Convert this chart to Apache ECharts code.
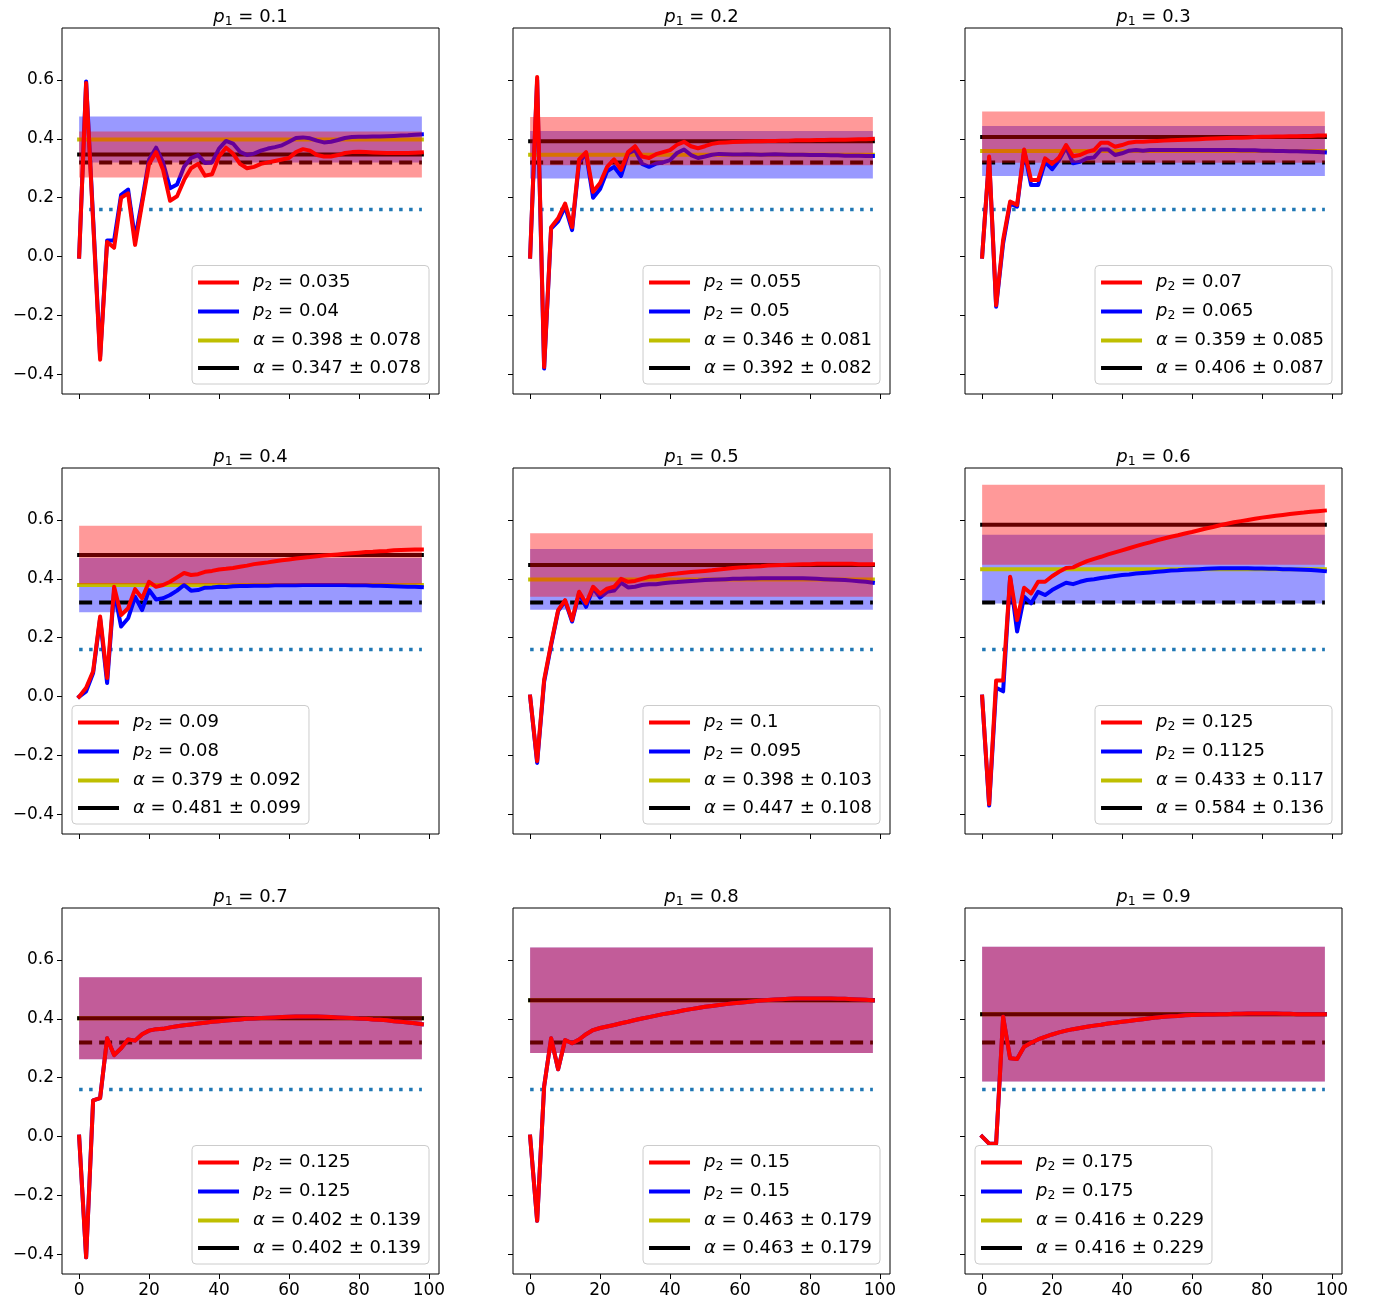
<!DOCTYPE html>
<html>
<head>
<meta charset="utf-8">
<script src="https://cdn.jsdelivr.net/npm/echarts@6/dist/echarts.min.js"></script>
<style>
  html, body { margin: 0; padding: 0; background: #fff; }
  #chart { width: 1374px; height: 1303px; }
</style>
</head>
<body>
<div id="chart"></div>
<script>
// x positions shared by every curve
const xs = [0, 2, 4, 6, 8, 10, 12, 14, 16, 18, 20, 22, 24, 26, 28, 30, 32, 34, 36, 38,
  40, 42, 44, 46, 48, 50, 52, 54, 56, 58, 60, 62, 64, 66, 68, 70, 72, 74, 76, 78,
  80, 82, 84, 86, 88, 90, 92, 94, 96, 98];

// p1 = 0.1
const red1 = [0.0, 0.59, 0.12, -0.35, 0.05, 0.03, 0.20, 0.215, 0.04, 0.18, 0.315, 0.355, 0.295, 0.19, 0.205, 0.26, 0.30, 0.315, 0.275, 0.28,
  0.34, 0.37, 0.35, 0.315, 0.30, 0.305, 0.315, 0.32, 0.325, 0.33, 0.335, 0.355, 0.365, 0.36, 0.345, 0.34, 0.34, 0.345, 0.352, 0.355,
  0.356, 0.355, 0.354, 0.353, 0.352, 0.352, 0.352, 0.352, 0.353, 0.354];
const blue1 = [0.0, 0.595, 0.13, -0.34, 0.055, 0.055, 0.21, 0.228, 0.06, 0.19, 0.33, 0.37, 0.32, 0.232, 0.245, 0.305, 0.335, 0.345, 0.318, 0.32,
  0.367, 0.393, 0.384, 0.356, 0.345, 0.35, 0.36, 0.367, 0.372, 0.378, 0.39, 0.403, 0.405, 0.402, 0.394, 0.388, 0.39, 0.396, 0.403, 0.406,
  0.407, 0.407, 0.408, 0.408, 0.409, 0.41, 0.411, 0.412, 0.414, 0.415];
// p1 = 0.2
const red2 = [0.0, 0.61, -0.375, 0.10, 0.13, 0.18, 0.10, 0.33, 0.355, 0.22, 0.25, 0.305, 0.33, 0.295, 0.355, 0.375, 0.34, 0.335, 0.348, 0.355,
  0.362, 0.38, 0.39, 0.375, 0.368, 0.375, 0.383, 0.387, 0.388, 0.389, 0.39, 0.391, 0.392, 0.392, 0.393, 0.393, 0.394, 0.394, 0.395, 0.395,
  0.395, 0.396, 0.396, 0.397, 0.397, 0.397, 0.398, 0.399, 0.399, 0.40];
const blue2 = [0.0, 0.60, -0.38, 0.095, 0.12, 0.17, 0.09, 0.32, 0.35, 0.20, 0.23, 0.29, 0.305, 0.274, 0.35, 0.362, 0.315, 0.305, 0.316, 0.32,
  0.328, 0.352, 0.364, 0.345, 0.335, 0.34, 0.346, 0.349, 0.348, 0.347, 0.347, 0.348, 0.347, 0.346, 0.347, 0.348, 0.347, 0.346, 0.346, 0.346,
  0.345, 0.345, 0.345, 0.344, 0.344, 0.343, 0.343, 0.343, 0.342, 0.342];
// p1 = 0.3
const red3 = [0.0, 0.34, -0.165, 0.057, 0.187, 0.176, 0.364, 0.26, 0.26, 0.334, 0.315, 0.337, 0.379, 0.341, 0.345, 0.356, 0.362, 0.387, 0.387, 0.373,
  0.379, 0.387, 0.39, 0.39, 0.392, 0.393, 0.394, 0.395, 0.396, 0.397, 0.398, 0.399, 0.40, 0.401, 0.402, 0.403, 0.404, 0.404, 0.405, 0.406,
  0.407, 0.407, 0.408, 0.408, 0.409, 0.409, 0.41, 0.41, 0.411, 0.411];
const blue3 = [0.0, 0.335, -0.17, 0.045, 0.18, 0.17, 0.36, 0.243, 0.243, 0.322, 0.297, 0.328, 0.371, 0.317, 0.322, 0.334, 0.337, 0.364, 0.364, 0.345,
  0.351, 0.36, 0.362, 0.36, 0.362, 0.362, 0.362, 0.362, 0.362, 0.362, 0.362, 0.362, 0.362, 0.362, 0.362, 0.362, 0.362, 0.361, 0.361, 0.361,
  0.36, 0.36, 0.359, 0.359, 0.358, 0.358, 0.357, 0.356, 0.355, 0.354];
// p1 = 0.4
const red4 = [0.0, 0.03, 0.086, 0.272, 0.063, 0.373, 0.277, 0.30, 0.365, 0.334, 0.39, 0.373, 0.379, 0.39, 0.405, 0.42, 0.413, 0.416, 0.424, 0.427,
  0.432, 0.434, 0.437, 0.441, 0.445, 0.45, 0.453, 0.456, 0.46, 0.463, 0.466, 0.469, 0.472, 0.474, 0.477, 0.479, 0.481, 0.483, 0.485, 0.487,
  0.489, 0.491, 0.492, 0.494, 0.495, 0.497, 0.498, 0.499, 0.50, 0.50];
const blue4 = [0.0, 0.018, 0.08, 0.265, 0.046, 0.36, 0.238, 0.266, 0.339, 0.294, 0.362, 0.33, 0.334, 0.345, 0.36, 0.379, 0.36, 0.362, 0.37, 0.371,
  0.373, 0.372, 0.375, 0.376, 0.376, 0.377, 0.377, 0.377, 0.378, 0.378, 0.378, 0.378, 0.379, 0.379, 0.379, 0.379, 0.379, 0.379, 0.379, 0.378,
  0.378, 0.378, 0.377, 0.377, 0.376, 0.375, 0.374, 0.373, 0.373, 0.372];
// p1 = 0.5
const red5 = [0.0, -0.219, 0.057, 0.18, 0.294, 0.328, 0.26, 0.356, 0.317, 0.373, 0.35, 0.367, 0.373, 0.40, 0.39, 0.393, 0.40, 0.407, 0.409, 0.412,
  0.416, 0.418, 0.421, 0.423, 0.425, 0.427, 0.429, 0.432, 0.434, 0.437, 0.439, 0.44, 0.442, 0.443, 0.445, 0.446, 0.447, 0.448, 0.449, 0.45,
  0.45, 0.451, 0.451, 0.451, 0.451, 0.451, 0.451, 0.45, 0.45, 0.45];
const blue5 = [0.0, -0.225, 0.05, 0.175, 0.29, 0.325, 0.255, 0.352, 0.305, 0.368, 0.337, 0.356, 0.36, 0.387, 0.371, 0.373, 0.379, 0.382, 0.382, 0.385,
  0.388, 0.389, 0.391, 0.393, 0.394, 0.396, 0.397, 0.398, 0.399, 0.40, 0.40, 0.401, 0.401, 0.402, 0.402, 0.402, 0.402, 0.402, 0.402, 0.402,
  0.401, 0.40, 0.399, 0.398, 0.397, 0.396, 0.394, 0.392, 0.39, 0.387];
// p1 = 0.6
const red6 = [0.0, -0.365, 0.055, 0.055, 0.407, 0.26, 0.37, 0.35, 0.39, 0.39, 0.409, 0.424, 0.437, 0.439, 0.45, 0.46, 0.468, 0.475, 0.483, 0.49,
  0.497, 0.504, 0.511, 0.518, 0.524, 0.531, 0.537, 0.543, 0.548, 0.554, 0.559, 0.565, 0.571, 0.576, 0.582, 0.587, 0.592, 0.596, 0.60, 0.604,
  0.608, 0.611, 0.614, 0.617, 0.62, 0.623, 0.625, 0.628, 0.63, 0.632];
const blue6 = [0.0, -0.37, 0.03, 0.018, 0.405, 0.221, 0.339, 0.317, 0.356, 0.345, 0.362, 0.375, 0.387, 0.382, 0.39, 0.396, 0.399, 0.403, 0.406, 0.41,
  0.413, 0.415, 0.418, 0.42, 0.422, 0.424, 0.426, 0.428, 0.429, 0.431, 0.432, 0.433, 0.434, 0.435, 0.436, 0.436, 0.436, 0.436, 0.436, 0.435,
  0.435, 0.434, 0.434, 0.433, 0.433, 0.432, 0.431, 0.43, 0.428, 0.426];
// p1 = 0.7 (both curves coincide)
const red7 = [0.0, -0.41, 0.123, 0.131, 0.334, 0.277, 0.30, 0.33, 0.326, 0.348, 0.36, 0.365, 0.366, 0.371, 0.375, 0.378, 0.381, 0.384, 0.387, 0.39,
  0.392, 0.394, 0.396, 0.398, 0.40, 0.401, 0.403, 0.404, 0.405, 0.406, 0.407, 0.408, 0.408, 0.408, 0.408, 0.407, 0.406, 0.405, 0.404, 0.403,
  0.401, 0.40, 0.398, 0.397, 0.395, 0.392, 0.39, 0.388, 0.385, 0.382];
const blue7 = red7;
// p1 = 0.8
const red8 = [0.0, -0.286, 0.17, 0.334, 0.229, 0.328, 0.317, 0.33, 0.348, 0.362, 0.369, 0.374, 0.379, 0.385, 0.39, 0.396, 0.401, 0.406, 0.411, 0.416,
  0.42, 0.424, 0.429, 0.433, 0.437, 0.441, 0.444, 0.447, 0.45, 0.453, 0.455, 0.457, 0.46, 0.462, 0.464, 0.466, 0.467, 0.468, 0.469, 0.469,
  0.469, 0.469, 0.469, 0.469, 0.468, 0.468, 0.467, 0.466, 0.465, 0.463];
const blue8 = red8;
// p1 = 0.9
const red9 = [0.0, -0.024, -0.024, 0.407, 0.266, 0.264, 0.305, 0.319, 0.33, 0.339, 0.347, 0.354, 0.36, 0.365, 0.369, 0.373, 0.377, 0.38, 0.384, 0.387,
  0.39, 0.393, 0.396, 0.399, 0.402, 0.405, 0.407, 0.409, 0.41, 0.412, 0.413, 0.414, 0.415, 0.415, 0.416, 0.416, 0.417, 0.417, 0.418, 0.418,
  0.418, 0.418, 0.418, 0.417, 0.417, 0.416, 0.416, 0.416, 0.416, 0.416];
const blue9 = red9;

const p1Values = ['0.1', '0.2', '0.3', '0.4', '0.5', '0.6', '0.7', '0.8', '0.9'];
const p2Red = ['0.035', '0.055', '0.07', '0.09', '0.1', '0.125', '0.125', '0.15', '0.175'];
const p2Blue = ['0.04', '0.05', '0.065', '0.08', '0.095', '0.1125', '0.125', '0.15', '0.175'];
// yellow line + blue band
const alphaBlue = [0.398, 0.346, 0.359, 0.379, 0.398, 0.433, 0.402, 0.463, 0.416];
const alphaBlueErr = [0.078, 0.081, 0.085, 0.092, 0.103, 0.117, 0.139, 0.179, 0.229];
// black line + red band
const alphaRed = [0.347, 0.392, 0.406, 0.481, 0.447, 0.584, 0.402, 0.463, 0.416];
const alphaRedErr = [0.078, 0.082, 0.087, 0.099, 0.108, 0.136, 0.139, 0.179, 0.229];
const legendSide = ['right', 'right', 'right', 'left', 'right', 'right', 'right', 'right', 'left'];
const dashedLevel = 0.32;
const dottedLevel = 0.16;

const xTicks = [0, 20, 40, 60, 80, 100];
const yTicks = [-0.4, -0.2, 0.0, 0.2, 0.4, 0.6];

const reds = [red1, red2, red3, red4, red5, red6, red7, red8, red9];
const blues = [blue1, blue2, blue3, blue4, blue5, blue6, blue7, blue8, blue9];

// layout (px)
const colLeft = [62, 513, 965];
const rowTop = [28, 468, 908];
const plotW = 377;
const plotH = 366;
const W = 1374, H = 1303;
const FONT = 'DejaVu Sans';

const labelText = {};
const richStyles = {
  it: { fontFamily: FONT, fontStyle: 'italic', fontSize: 18, lineHeight: 21, color: '#000' },
  sub: { fontFamily: FONT, fontSize: 12.5, lineHeight: 12, verticalAlign: 'bottom', color: '#000' },
  n: { fontFamily: FONT, fontSize: 18, lineHeight: 21, color: '#000' },
  g: { width: 9, fontSize: 18, lineHeight: 21 }
};
const titleRich = {
  it: { fontFamily: FONT, fontStyle: 'italic', fontSize: 18, lineHeight: 21, color: '#000' },
  sub: { fontFamily: FONT, fontSize: 12.5, lineHeight: 12, verticalAlign: 'bottom', color: '#000' },
  n: { fontFamily: FONT, fontSize: 18, lineHeight: 21, color: '#000' }
};

const grids = [], xAxes = [], yAxes = [], series = [], legends = [], titles = [];

function pairs(vals) {
  return xs.map(function (x, i) { return [x, vals[i]]; });
}
function flat(v) {
  return [[xs[0], v], [xs[xs.length - 1], v]];
}

function band(k, center, err, color, z) {
  return {
    type: 'custom', xAxisIndex: k, yAxisIndex: k, z: z, silent: true,
    data: [[xs[0], center - err, xs[xs.length - 1], center + err]],
    renderItem: function (params, api) {
      const a = api.coord([api.value(0), api.value(3)]);
      const b = api.coord([api.value(2), api.value(1)]);
      return {
        type: 'rect',
        shape: { x: a[0], y: a[1], width: b[0] - a[0], height: b[1] - a[1] },
        style: { fill: color }
      };
    }
  };
}

function line(k, name, data, color, width, z, type) {
  return {
    type: 'line', name: name, xAxisIndex: k, yAxisIndex: k, z: z,
    data: data, symbol: 'none', silent: true,
    color: color,
    itemStyle: { color: color },
    lineStyle: { color: color, width: width, type: type || 'solid', join: 'round', cap: type ? 'butt' : 'square' }
  };
}

for (let k = 0; k < 9; k++) {
  const r = Math.floor(k / 3), c = k % 3;
  const left = colLeft[c], top = rowTop[r];

  grids.push({ left: left, top: top, width: plotW, height: plotH, show: true,
    borderColor: '#000', borderWidth: 1, backgroundColor: '#fff', containLabel: false });

  xAxes.push({
    type: 'value', gridIndex: k, min: -4.9, max: 102.9,
    axisLine: { show: false, onZero: false }, splitLine: { show: false },
    axisTick: { show: true, customValues: xTicks, length: 5, lineStyle: { color: '#000', width: 1 } },
    axisLabel: { show: r === 2, customValues: xTicks, margin: 8, fontFamily: FONT, fontSize: 17, color: '#000' }
  });
  yAxes.push({
    type: 'value', gridIndex: k, min: -0.4665, max: 0.7765,
    axisLine: { show: false, onZero: false }, splitLine: { show: false },
    axisTick: { show: true, customValues: yTicks, length: 5, lineStyle: { color: '#000', width: 1 } },
    axisLabel: { show: c === 0, customValues: yTicks, margin: 8, fontFamily: FONT, fontSize: 17, color: '#000',
      formatter: function (v) { return v.toFixed(1).replace('-', '\u2212'); } }
  });

  const rn = 'r' + k, bn = 'b' + k, yn = 'y' + k, kn = 'k' + k;
  labelText[rn] = '{g| }{it|p}{sub|2}{n| = ' + p2Red[k] + '}';
  labelText[bn] = '{g| }{it|p}{sub|2}{n| = ' + p2Blue[k] + '}';
  labelText[yn] = '{g| }{it|\u03b1}{n| = ' + alphaBlue[k].toFixed(3) + ' \u00b1 ' + alphaBlueErr[k].toFixed(3) + '}';
  labelText[kn] = '{g| }{it|\u03b1}{n| = ' + alphaRed[k].toFixed(3) + ' \u00b1 ' + alphaRedErr[k].toFixed(3) + '}';

  // draw order: blue band, alpha lines, reference lines, blue curve, red band, red curve
  series.push(band(k, alphaBlue[k], alphaBlueErr[k], 'rgba(0,0,255,0.4)', 1));
  series.push(line(k, yn, flat(alphaBlue[k]), '#bfbf00', 4, 2));
  series.push(line(k, kn, flat(alphaRed[k]), '#000000', 4, 3));
  series.push(line(k, 'dash' + k, flat(dashedLevel), '#000000', 4, 4, [13, 7]));
  series.push(line(k, 'dot' + k, flat(dottedLevel), '#1f77b4', 3.5, 5, [3.5, 6.5]));
  series.push(line(k, bn, pairs(blues[k]), '#0000ff', 4, 6));
  series.push(band(k, alphaRed[k], alphaRedErr[k], 'rgba(255,0,0,0.4)', 7));
  series.push(line(k, rn, pairs(reds[k]), '#ff0000', 4, 8));

  const lg = {
    orient: 'vertical', z: 20, selectedMode: false,
    data: [rn, bn, yn, kn],
    icon: 'rect', itemWidth: 41, itemHeight: 4, itemGap: 9.5,
    itemStyle: { borderWidth: 0 },
    padding: [8, 8, 7, 6],
    backgroundColor: 'rgba(255,255,255,0.8)', borderColor: '#cccccc', borderWidth: 1, borderRadius: 4,
    bottom: H - (top + plotH - 10),
    formatter: function (name) { return labelText[name]; },
    textStyle: { fontFamily: FONT, fontSize: 18, color: '#000', rich: richStyles }
  };
  if (legendSide[k] === 'right') lg.right = W - (left + plotW - 10);
  else lg.left = left + 10;
  legends.push(lg);

  titles.push({
    text: '{it|p}{sub|1}{n| = ' + p1Values[k] + '}',
    left: left + plotW / 2, top: top - 21, textAlign: 'center', padding: 0,
    textStyle: { fontFamily: FONT, fontSize: 18, fontWeight: 'normal', color: '#000', rich: titleRich }
  });
}

const chart = echarts.init(document.getElementById('chart'), null, { renderer: 'canvas' });
chart.setOption({
  animation: false,
  backgroundColor: '#fff',
  title: titles,
  legend: legends,
  grid: grids,
  xAxis: xAxes,
  yAxis: yAxes,
  series: series
});
</script>
</body>
</html>
